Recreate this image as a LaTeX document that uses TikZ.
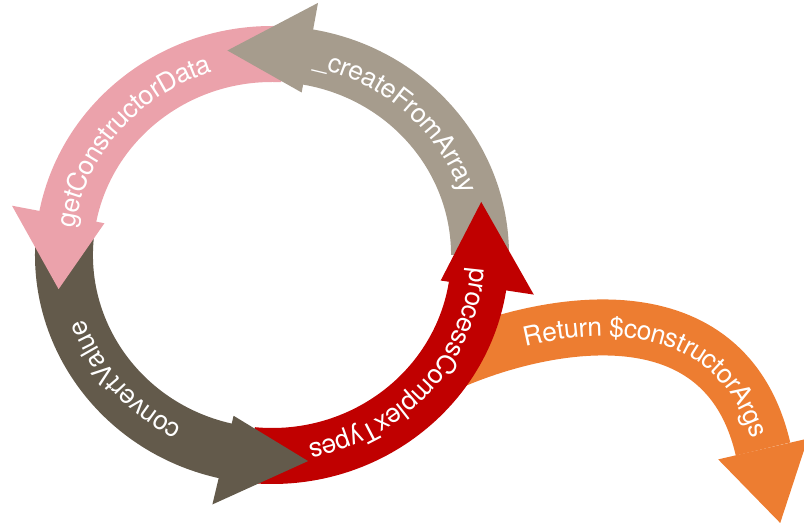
\documentclass[tikz,border=0pt]{standalone}
\usepackage{fontspec}
\setmainfont{TeX Gyre Heros}
\usepackage{xcolor}
\usepackage{tikz}
\usetikzlibrary{decorations.text}

\definecolor{fromArr}{HTML}{A69C8D}
\definecolor{ctorData}{HTML}{EBA2AB}
\definecolor{convVal}{HTML}{635A4B}
\definecolor{complexT}{HTML}{C00000}
\definecolor{retArgs}{HTML}{ED7D31}

\newcommand\arrowfont{\fontsize{26.5}{30}\selectfont}
% ring band: colour, tail angle, angle where the head starts
\newcommand\ringbody[3]{\fill[#1] (#2:229) arc[start angle=#2,end angle=#3,radius=229] -- (#3:173) arc[start angle=#3,end angle=#2,radius=173] -- cycle;}
% ring head: colour, base angle, tip angle
\newcommand\ringhead[3]{\fill[#1] (#2:165) -- (#2:256) -- (#3:209) -- cycle;}

\begin{document}
\begin{tikzpicture}[x=1pt,y=1pt]
\tikzset{
  steplabel/.style={decorate,decoration={text along path,text align=center,text color=white,raise=-9pt,text={|\arrowfont|#1}}}
}
\useasboundingbox (0,0) rectangle (804,525);
\clip (0,0) rectangle (804,525);

% way out of the loop, goes under the red band
\draw[retArgs,line width=56pt] (455,165) .. controls (545,203) and (725,240) .. (763,76);
\fill[retArgs] (718.2,65.6) -- (807.8,86.4) -- (780.2,2) -- cycle;
\path[decorate,decoration={text along path,text color=white,raise=-9pt,text align={left indent=72pt},
  text={|\arrowfont|Return {\$}constructorArgs}}]
  (455,165) .. controls (545,203) and (725,240) .. (763,76);

% the loop: bands first, heads on top
\begin{scope}[shift={(272,270)},xscale=1.035]
\ringbody{fromArr}{0}{81}
\ringbody{ctorData}{87}{170}
\ringbody{convVal}{174.5}{258}
\ringbody{complexT}{264.5}{352}
\ringhead{fromArr}{80}{101.9}
\ringhead{ctorData}{168.9}{189.4}
\ringhead{convVal}{257}{279.6}
\ringhead{complexT}{351.1}{374.7}

\path[steplabel={{\_}createFromArray}] (97.9:201) arc[start angle=97.9,end angle=-2.1,radius=201];
\path[steplabel={getConstructorData}] (190:201) arc[start angle=190,end angle=90,radius=201];
\path[steplabel={convertValue}] (270.9:201) arc[start angle=270.9,end angle=170.9,radius=201];
\path[steplabel={processComplexTypes}] (8.5:201) arc[start angle=8.5,end angle=-91.5,radius=201];
\end{scope}
\end{tikzpicture}
\end{document}
